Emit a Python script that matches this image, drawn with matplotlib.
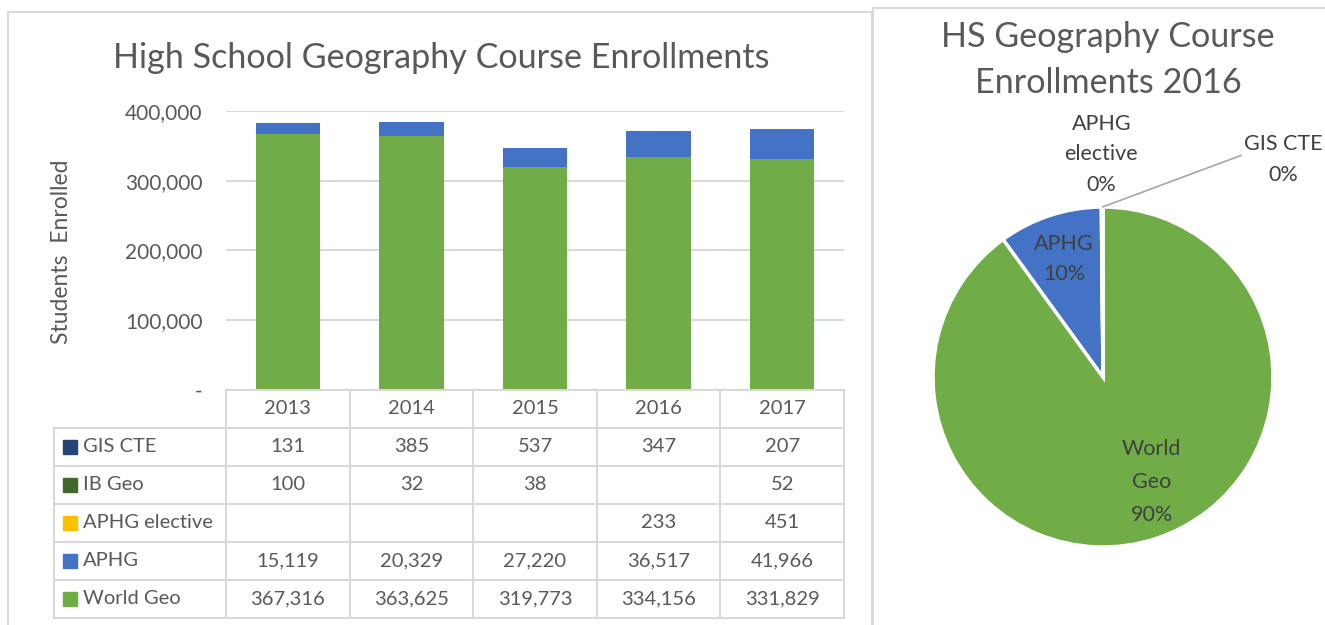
import numpy as np
import matplotlib
matplotlib.use("Agg")
import matplotlib.pyplot as plt
from matplotlib.patches import Rectangle

# ---------------- Data ------------------------
years = ["2013", "2014", "2015", "2016", "2017"]
world_geo = [367316, 363625, 319773, 334156, 331829]
aphg = [15119, 20329, 27220, 36517, 41966]
aphg_elective = [None, None, None, 233, 451]
ib_geo = [100, 32, 38, None, 52]
gis_cte = [131, 385, 537, 347, 207]

# stack order bottom -> top
series_names = ["World Geo", "APHG", "APHG elective", "IB Geo", "GIS CTE"]
series_vals = [world_geo, aphg, aphg_elective, ib_geo, gis_cte]
series_cols = ["#70AD47", "#4472C4", "#FFC000", "#43682B", "#264478"]

yticks = [0, 100000, 200000, 300000, 400000]

pie_year = "2016"

# ---------------- Layout helpers ------------------------
W, H = 1325, 625
TXT = "#595959"
GRID = "#D9D9D9"
plt.rcParams["font.family"] = ["Lato", "DejaVu Sans"]


def px(x0, y0, x1, y1):
    return [x0 / W, 1 - y1 / H, (x1 - x0) / W, (y1 - y0) / H]


fig = plt.figure(figsize=(W / 100, H / 100), dpi=100)
fig.patch.set_facecolor("white")

# panel borders
fig.add_artist(Rectangle((8 / W, -0.05), 864 / W, 1 - 12 / H + 0.05, transform=fig.transFigure,
                         fill=False, edgecolor=GRID, linewidth=1.5))
fig.add_artist(Rectangle((873 / W, -0.05), 0.5, 1 - 8 / H + 0.05, transform=fig.transFigure,
                         fill=False, edgecolor=GRID, linewidth=1.5))

# ---------------- Stacked bars ------------------------
ax = fig.add_axes(px(226, 111, 844, 390))
x = np.arange(len(years))
bottom = np.zeros(len(years))
for name, vals, col in zip(series_names, series_vals, series_cols):
    v = np.array([0 if a is None else a for a in vals], dtype=float)
    ax.bar(x, v, 0.52, bottom=bottom, color=col, label=name, zorder=3)
    bottom += v

ax.set_xlim(-0.5, len(years) - 0.5)
ax.set_ylim(0, 400000)
ax.set_yticks(yticks)
ax.set_yticklabels(["-" if t == 0 else f"{t:,}" for t in yticks], fontsize=15, color=TXT)
ax.tick_params(axis="y", length=0, pad=17)
ax.set_xticks([])
for s in ax.spines.values():
    s.set_visible(False)
ax.grid(axis="y", color=GRID, linewidth=1.5, zorder=0)

fig.text(441 / W, 1 - 58 / H, "High School Geography Course Enrollments",
         ha="center", va="center", fontsize=24.6, color=TXT)
fig.text(62 / W, 1 - 252 / H, "Students  Enrolled", rotation=90,
         ha="center", va="center", fontsize=16.5, color=TXT)

# ---------------- Data table ------------------------
tab = fig.add_axes(px(54, 390, 844, 618))
lab_w = (226 - 54) / 123.6
x_left = -0.5 - lab_w
tab.set_xlim(x_left, len(years) - 0.5)
nrows = len(series_names) + 1
tab.set_ylim(nrows, 0)
tab.axis("off")

lk = dict(color=GRID, linewidth=1.5, clip_on=False)
tab.plot([-0.5, len(years) - 0.5], [0, 0], **lk)
for r in range(1, nrows + 1):
    tab.plot([x_left, len(years) - 0.5], [r, r], **lk)
tab.plot([x_left, x_left], [1, nrows], **lk)
for c in range(len(years) + 1):
    tab.plot([c - 0.5, c - 0.5], [0, nrows], **lk)

for i, yr in enumerate(years):
    tab.text(i, 0.5, yr, ha="center", va="center", fontsize=14.5, color=TXT)

table_rows = list(zip(series_names, series_vals, series_cols))[::-1]
for r, (name, vals, col) in enumerate(table_rows, start=1):
    tab.plot(x_left + 0.13, r + 0.5, marker="s", markersize=10, color=col, clip_on=False)
    tab.text(x_left + 0.235, r + 0.5, name, ha="left", va="center", fontsize=14.5, color=TXT)
    for i, v in enumerate(vals):
        if v is not None:
            tab.text(i, r + 0.5, f"{v:,}", ha="center", va="center", fontsize=14.5, color=TXT)

# ---------------- Pie ------------------------
k = years.index(pie_year)
pie_vals = [0 if vals[k] is None else vals[k] for vals in series_vals]
pie_names = ["World\nGeo", "APHG", "APHG\nelective", "IB Geo", "GIS CTE"]
total = sum(pie_vals)

pax = fig.add_axes(px(933, 207, 1273, 547))
wedges, _ = pax.pie(pie_vals, colors=series_cols, startangle=90, counterclock=False,
                    wedgeprops=dict(edgecolor="white", linewidth=2.5))
pax.set_xlim(-1, 1)
pax.set_ylim(-1, 1)

PIE_TXT = "#404040"
pk = dict(ha="center", va="center", fontsize=15.5, color=PIE_TXT, linespacing=1.65)
for w, name, v in zip(wedges, pie_names, pie_vals):
    ang = np.deg2rad((w.theta1 + w.theta2) / 2)
    lab = f"{name}\n{v / total:.0%}"
    if v <= 0:
        continue
    frac = v / total
    if frac > 0.5:
        rr = 0.68
        pax.text(rr * np.cos(ang + 0.12), rr * np.sin(ang + 0.12), lab,
                 **dict(pk, linespacing=1.8))
    elif frac > 0.05:
        rr = 0.73
        pax.text(rr * np.cos(ang), rr * np.sin(ang), lab, **pk)
    elif name == "GIS CTE":
        pax.annotate(lab, xy=(np.cos(ang), np.sin(ang)), xytext=(1.06, 1.28),
                     arrowprops=dict(arrowstyle="-", color="#A6A6A6", lw=1.2,
                                     relpos=(0.0, 0.6), shrinkA=0, shrinkB=0), **pk)
    else:
        rr = 1.31
        pax.text(rr * np.cos(ang), rr * np.sin(ang), lab, **pk)

fig.text(1108 / W, 1 - 60 / H, "HS Geography Course\nEnrollments 2016",
         ha="center", va="center", fontsize=24.6, color=TXT, linespacing=1.55)

fig.savefig("out.png", dpi=100, facecolor="white")
